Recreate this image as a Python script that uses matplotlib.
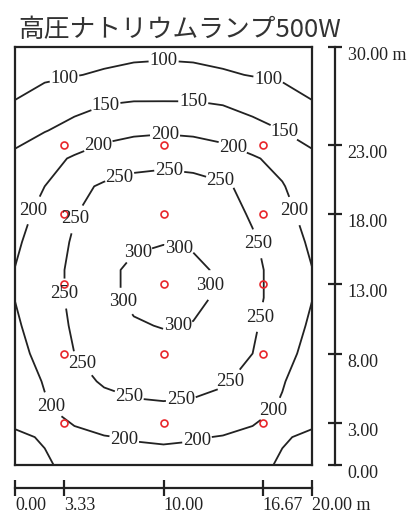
import matplotlib
matplotlib.use('Agg')
import matplotlib.pyplot as plt
import numpy as np

# illuminance (lx), 2 m grid
x_m = [0, 2, 4, 6, 8, 10, 12, 14, 16, 18, 20]
y_m = [0, 2, 4, 6, 8, 10, 12, 14, 16, 18, 20, 22, 24, 26, 28, 30]
lux_rows = [
    [125, 147, 157, 175, 183, 186, 183, 175, 157, 147, 125],  # y=0
    [146, 152, 190, 198, 203, 205, 203, 198, 190, 152, 146],  # y=2
    [160, 195, 215, 232, 240, 243, 240, 232, 215, 195, 160],  # y=4
    [175, 203, 235, 255, 265, 267, 265, 255, 235, 203, 175],  # y=6
    [185, 215, 250, 270, 283, 285, 283, 270, 250, 215, 185],  # y=8
    [193, 225, 256, 280, 296, 302, 298, 282, 256, 225, 193],  # y=10
    [201, 230, 260, 290, 308, 320, 310, 292, 262, 230, 201],  # y=12
    [201, 230, 260, 290, 308, 318, 310, 292, 262, 230, 201],  # y=14
    [192, 226, 255, 280, 294, 298, 294, 280, 255, 226, 192],  # y=16
    [182, 215, 248, 268, 280, 283, 280, 268, 245, 215, 182],  # y=18
    [172, 200, 240, 255, 263, 265, 263, 255, 240, 203, 172],  # y=20
    [157, 185, 205, 225, 236, 240, 236, 225, 205, 186, 157],  # y=22
    [137, 148, 165, 180, 190, 194, 190, 180, 165, 150, 137],  # y=24
    [102, 118, 135, 147, 152, 152, 152, 147, 135, 120, 102],  # y=26
    [82, 93, 98, 105, 112, 115, 112, 105, 98, 93, 82],        # y=28
    [65, 72, 78, 82, 85, 86, 85, 82, 78, 72, 65],             # y=30
]
levels = [100, 150, 200, 250, 300]

lamp_x = [3.33, 10, 16.67]
lamp_y = [3, 8, 13, 18, 23]

x_ticks = [0, 3.33, 10, 16.67, 20]
x_ticklabels = ['0.00', '3.33', '10.00', '16.67', '20.00 m']
y_ticks = [0, 3, 8, 13, 18, 23, 30]
y_ticklabels = ['0.00', '3.00', '8.00', '13.00', '18.00', '23.00', '30.00 m']

title = '高圧ナトリウムランプ500W'

# where the contour labels sit (m)
label_spots = [
    (3.4, 27.4), (10, 28.9), (17, 27.4),
    (6.1, 25.8), (12, 26.05), (18, 23.7),
    (5.5, 23.2), (10.1, 23.7), (14.7, 22.9), (1.2, 18.3), (18.5, 18.1),
    (2.8, 4.4), (17, 4.4), (7.3, 1.6), (12.3, 1.6),
    (6.9, 21.2), (10.4, 21.3), (13.9, 20.6), (4, 17.7), (3.4, 12.3),
    (4.2, 7.0), (7.5, 4.4), (11.2, 4.4), (14.9, 5.6), (16.6, 10.6), (16.4, 15.9),
    (8.3, 15.1), (11, 15.4), (12.6, 12.9), (7.3, 11.7), (11, 9.8),
]

plt.rcParams['font.family'] = ['Liberation Serif', 'DejaVu Serif']
ink = '#222222'

W, H = 409, 513
fig = plt.figure(figsize=(W / 100, H / 100), dpi=100)
ax = fig.add_axes([15 / W, 1 - 465 / H, 297 / W, 418 / H])

lux = np.array(lux_rows)
cs = ax.contour(x_m, y_m, lux, levels=levels, colors=ink, linewidths=1.3)
ax.clabel(cs, fmt='%d', fontsize=13.5, inline=True, inline_spacing=1,
          manual=label_spots)
for t in cs.labelTexts:
    t.set_rotation(0)

lx, ly = np.meshgrid(lamp_x, lamp_y)
ax.plot(lx.ravel(), ly.ravel(), 'o', ms=5, mfc='none', mec='#e8262b', mew=1.2)

ax.set_xlim(0, 20)
ax.set_ylim(0, 30)
ax.set_xticks([])
ax.set_yticks([])
for s in ax.spines.values():
    s.set_linewidth(1.6)
    s.set_color(ink)

# scale on the right
axr = fig.add_axes([335 / W, 1 - 465 / H, 0.0001, 418 / H])
axr.patch.set_visible(False)
axr.set_ylim(0, 30)
for k in ['top', 'bottom', 'left']:
    axr.spines[k].set_visible(False)
axr.spines['right'].set_linewidth(1.6)
axr.spines['right'].set_color(ink)
axr.yaxis.tick_right()
axr.set_xticks([])
axr.set_yticks(y_ticks, y_ticklabels)
axr.tick_params(axis='y', direction='inout', length=10, width=1.6,
                pad=4, labelsize=13, color=ink, labelcolor=ink)
for t in axr.get_yticklabels():
    t.set_va('top')

# scale below
axb = fig.add_axes([15 / W, 1 - 488 / H, 297 / W, 0.0001])
axb.patch.set_visible(False)
axb.set_xlim(0, 20)
for k in ['top', 'right', 'left']:
    axb.spines[k].set_visible(False)
axb.spines['bottom'].set_linewidth(1.6)
axb.spines['bottom'].set_color(ink)
axb.set_yticks([])
axb.set_xticks(x_ticks, x_ticklabels)
axb.tick_params(axis='x', direction='inout', length=12, width=1.6,
                pad=0.5, labelsize=13, color=ink, labelcolor=ink)
for t in axb.get_xticklabels():
    t.set_ha('left')

fig.text(18 / W, 1 - 37 / H, title, fontsize=18.5, color='#333333',
         family=['Noto Sans CJK JP', 'DejaVu Sans'], va='baseline')

fig.savefig('out.png', dpi=100)
